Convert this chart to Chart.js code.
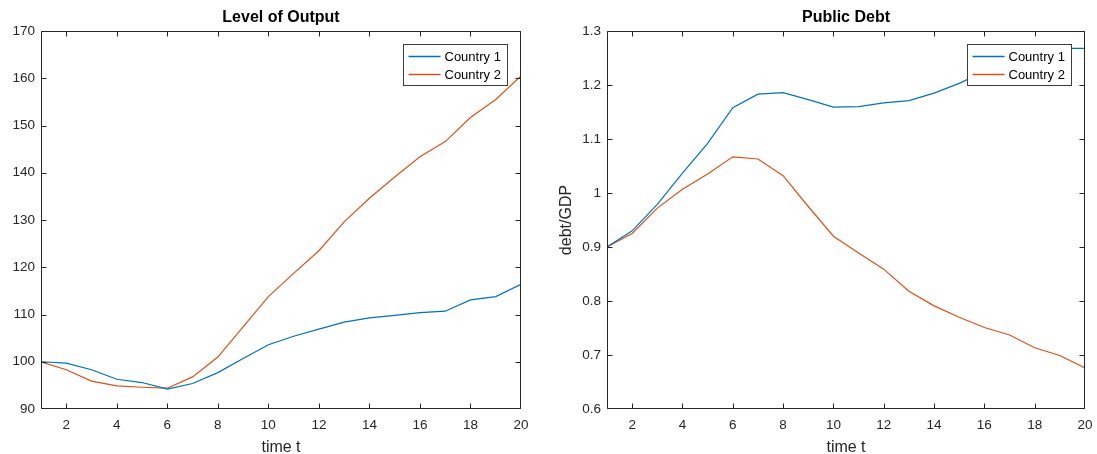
<!DOCTYPE html>
<html><head><meta charset="utf-8">
<script src="https://cdn.jsdelivr.net/npm/chart.js@4"></script>
<style>
html,body{margin:0;padding:0;background:#fff;width:1097px;height:454px;overflow:hidden}
.box{position:absolute;top:0;height:454px}
#b1{left:0;width:548px}
#b2{left:548px;width:549px}
</style></head><body>
<div class="box" id="b1"><canvas id="c1"></canvas></div>
<div class="box" id="b2"><canvas id="c2"></canvas></div>
<script>
const periods = [1,2,3,4,5,6,7,8,9,10,11,12,13,14,15,16,17,18,19,20];
const seriesNames = ['Country 1', 'Country 2'];
const output1 = [100, 99.7, 98.3, 96.3, 95.6, 94.2, 95.4, 97.7, 100.7, 103.6, 105.4, 106.9, 108.4, 109.3, 109.8, 110.4, 110.7, 113.1, 113.8, 116.4];
const output2 = [100, 98.3, 95.9, 94.9, 94.6, 94.4, 96.8, 101.0, 107.4, 113.8, 118.7, 123.5, 129.6, 134.6, 139.1, 143.4, 146.6, 151.7, 155.5, 160.5];
const debt1 = [0.900, 0.930, 0.979, 1.037, 1.092, 1.158, 1.183, 1.186, 1.173, 1.159, 1.160, 1.167, 1.171, 1.185, 1.203, 1.225, 1.245, 1.260, 1.268, 1.268];
const debt2 = [0.900, 0.925, 0.972, 1.007, 1.035, 1.067, 1.063, 1.032, 0.975, 0.920, 0.889, 0.859, 0.818, 0.791, 0.770, 0.751, 0.737, 0.7135, 0.699, 0.676];
const xTicks = [2,4,6,8,10,12,14,16,18,20];
const outputTicks = [90,100,110,120,130,140,150,160,170];
const outputTickLabels = ['90','100','110','120','130','140','150','160','170'];
const debtTicks = [0.6,0.7,0.8,0.9,1.0,1.1,1.2,1.3];
const debtTickLabels = ['0.6','0.7','0.8','0.9','1','1.1','1.2','1.3'];

const FONT = "Arial, 'Liberation Sans', Helvetica, sans-serif";
const AXC = '#262626';
const COLORS = ['rgb(0,114,189)', 'rgb(217,83,25)'];

const decor = {
  id: 'decor',
  afterDraw(chart, args, o) {
    const ctx = chart.ctx;
    const a = chart.chartArea;
    const L = Math.round(a.left) + 0.5, R = Math.round(a.right) - 0.5;
    const T = Math.round(a.top) + 0.5, B = Math.round(a.bottom) - 0.5;
    const clamp = (v, lo, hi) => Math.min(hi, Math.max(lo, v));
    ctx.save();
    ctx.strokeStyle = AXC;
    ctx.lineWidth = 1;
    ctx.beginPath();
    ctx.rect(L, T, R - L, B - T);
    const tl = 5;
    chart.scales.x.ticks.forEach(t => {
      const px = clamp(Math.round(chart.scales.x.getPixelForValue(t.value)) + 0.5, L, R);
      ctx.moveTo(px, B); ctx.lineTo(px, B - tl);
      ctx.moveTo(px, T); ctx.lineTo(px, T + tl);
    });
    chart.scales.y.ticks.forEach(t => {
      const py = clamp(Math.round(chart.scales.y.getPixelForValue(t.value)) + 0.5, T, B);
      ctx.moveTo(L, py); ctx.lineTo(L + tl, py);
      ctx.moveTo(R, py); ctx.lineTo(R - tl, py);
    });
    ctx.stroke();

    // title
    const cx = (a.left + a.right) / 2;
    ctx.fillStyle = '#000';
    ctx.font = 'bold 16px ' + FONT;
    ctx.textAlign = 'center';
    ctx.textBaseline = 'alphabetic';
    ctx.fillText(o.title, cx, 22);
    // x label
    ctx.fillStyle = AXC;
    ctx.font = '16px ' + FONT;
    ctx.fillText(o.xlabel, cx, 452);
    // y label
    if (o.ylabel) {
      ctx.save();
      ctx.translate(o.ylabelX, (a.top + a.bottom) / 2);
      ctx.rotate(-Math.PI / 2);
      ctx.textBaseline = 'middle';
      ctx.fillText(o.ylabel, 0, 0);
      ctx.restore();
    }
    // legend
    const w = 104, h = 41;
    const x0 = Math.round(a.right) - 14 - w + 0.5, y0 = Math.round(a.top) + 13 + 0.5;
    ctx.fillStyle = '#fff';
    ctx.fillRect(x0, y0, w, h);
    ctx.strokeStyle = '#3c3c3c';
    ctx.lineWidth = 1;
    ctx.strokeRect(x0, y0, w, h);
    ctx.font = '13px ' + FONT;
    ctx.textAlign = 'left';
    ctx.textBaseline = 'middle';
    chart.data.datasets.forEach((ds, i) => {
      const yy = y0 + 12 + i * 18;
      ctx.strokeStyle = ds.borderColor;
      ctx.lineWidth = 1.5;
      ctx.beginPath();
      ctx.moveTo(x0 + 5, yy); ctx.lineTo(x0 + 37, yy);
      ctx.stroke();
      ctx.fillStyle = '#000';
      ctx.fillText(ds.label, x0 + 41, yy + 0.5);
    });
    ctx.restore();
  }
};

function zeroPad(s) { s.paddingLeft = 0; s.paddingRight = 0; s.paddingTop = 0; s.paddingBottom = 0; }

function makeChart(id, cfg) {
  const ticksFont = { family: FONT, size: 13.5 };
  return new Chart(document.getElementById(id), {
    type: 'line',
    data: {
      datasets: [cfg.s1, cfg.s2].map((vals, i) => ({
        label: seriesNames[i],
        data: periods.map((t, k) => ({ x: t, y: vals[k] })),
        borderColor: COLORS[i],
        backgroundColor: COLORS[i],
        borderWidth: 1.2,
        pointRadius: 0,
        tension: 0,
        fill: false
      }))
    },
    options: {
      responsive: true,
      maintainAspectRatio: false,
      animation: false,
      devicePixelRatio: 1,
      layout: { padding: { top: 31, right: cfg.rightPad, left: 0, bottom: 0 } },
      plugins: {
        legend: { display: false },
        tooltip: { enabled: false },
        decor: { title: cfg.title, xlabel: 'time t', ylabel: cfg.ylabel, ylabelX: cfg.ylabelX }
      },
      scales: {
        x: {
          type: 'linear', min: 1, max: 20,
          afterBuildTicks: s => { s.ticks = xTicks.map(v => ({ value: v })); },
          afterFit: s => { s.height = 45; zeroPad(s); },
          grid: { display: false, drawTicks: false },
          border: { display: false },
          ticks: { padding: 8, color: AXC, font: ticksFont, maxRotation: 0, autoSkip: false, callback: v => String(v) }
        },
        y: {
          type: 'linear', min: cfg.yTicks[0], max: cfg.yTicks[cfg.yTicks.length - 1],
          afterBuildTicks: s => { s.ticks = cfg.yTicks.map(v => ({ value: v })); },
          afterFit: s => { s.width = cfg.leftW; zeroPad(s); },
          grid: { display: false, drawTicks: false },
          border: { display: false },
          ticks: {
            padding: 6, color: AXC, font: ticksFont, autoSkip: false,
            callback: v => cfg.yLabels[cfg.yTicks.findIndex(t => Math.abs(t - v) < 1e-9)]
          }
        }
      }
    },
    plugins: [decor]
  });
}

makeChart('c1', { title: 'Level of Output', s1: output1, s2: output2, yTicks: outputTicks, yLabels: outputTickLabels, leftW: 41, rightPad: 27, ylabel: null });
makeChart('c2', { title: 'Public Debt', s1: debt1, s2: debt2, yTicks: debtTicks, yLabels: debtTickLabels, leftW: 59, rightPad: 12, ylabel: 'debt/GDP', ylabelX: 19 });
</script>
</body></html>
